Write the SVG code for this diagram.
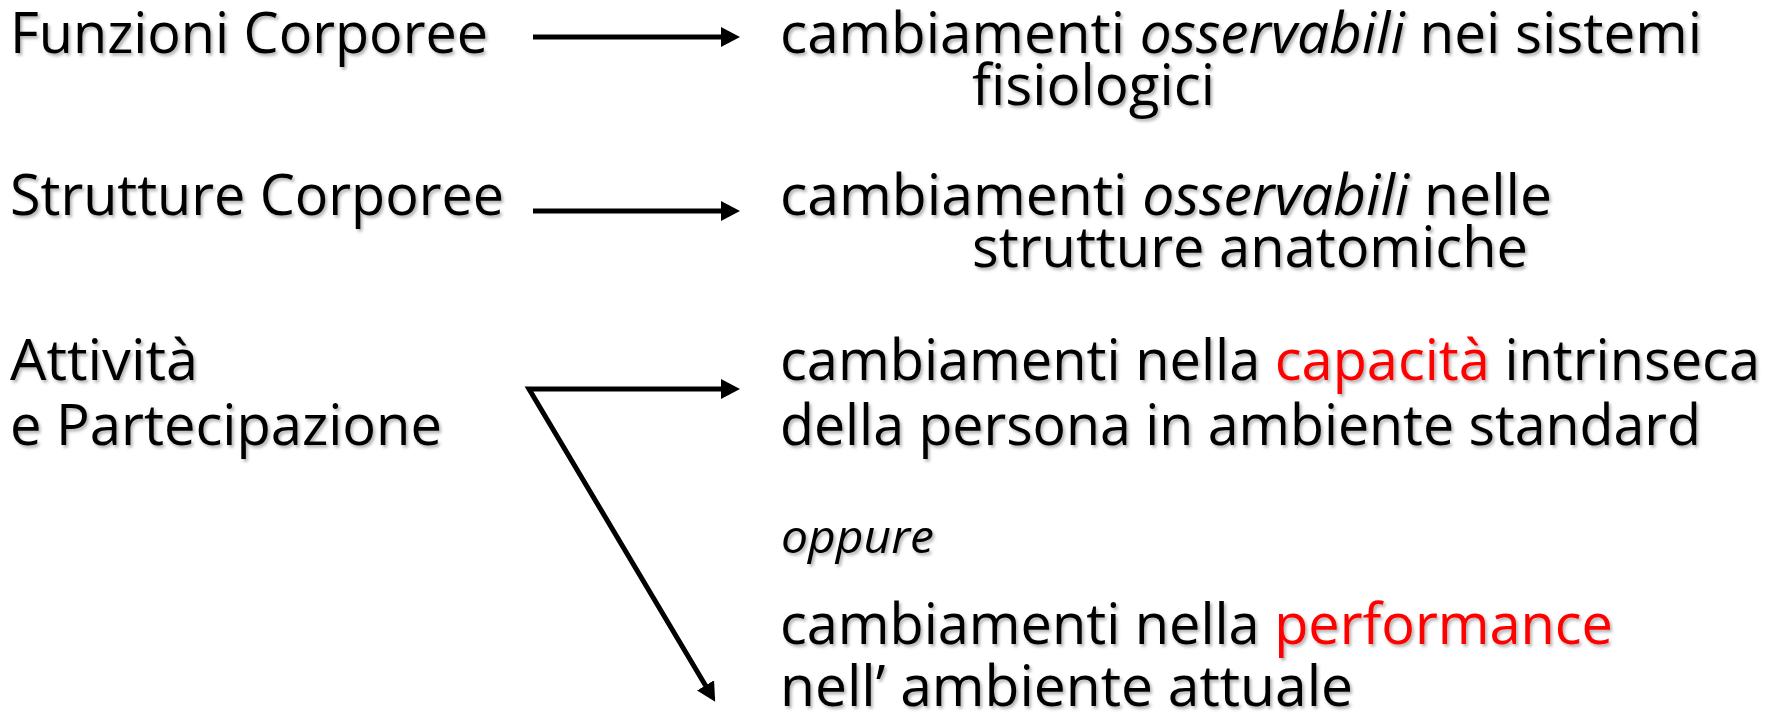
<svg xmlns="http://www.w3.org/2000/svg" width="1771" height="720" viewBox="0 0 1771 720">
<style>
  text { font-family: "Open Sans", "Noto Sans", "Liberation Sans", sans-serif; font-size: 56px; fill: #000; }
  .it { font-style: italic; }
  .red { fill: #FF0000; }
  .small { font-size: 46px; }
  .shadow { filter: url(#sh); }
  .conn { fill: none; stroke: #000; stroke-width: 5; stroke-linejoin: miter; }
</style>
<defs>
  <filter id="sh" x="-5%" y="-20%" width="110%" height="150%">
    <feDropShadow dx="2" dy="2.5" stdDeviation="1.5" flood-color="#000" flood-opacity="0.3"/>
  </filter>
  <marker id="ah" viewBox="0 0 19 20" refX="3" refY="10" markerWidth="19" markerHeight="20" markerUnits="userSpaceOnUse" orient="auto-start-reverse">
    <path d="M0,0 L19,10 L0,20 Z" fill="#000"/>
  </marker>
</defs>

<g id="funzioni" class="shadow">
  <text x="10" y="53" textLength="478" lengthAdjust="spacingAndGlyphs">Funzioni Corporee</text>
</g>
<g id="funzioni-desc" class="shadow">
  <text x="780" y="53" textLength="922" lengthAdjust="spacingAndGlyphs">cambiamenti <tspan class="it">osservabili</tspan> nei sistemi</text>
  <text x="972" y="105" textLength="243" lengthAdjust="spacingAndGlyphs">fisiologici</text>
</g>

<g id="strutture" class="shadow">
  <text x="10" y="215" textLength="494" lengthAdjust="spacingAndGlyphs">Strutture Corporee</text>
</g>
<g id="strutture-desc" class="shadow">
  <text x="780" y="215" textLength="772" lengthAdjust="spacingAndGlyphs">cambiamenti <tspan class="it">osservabili</tspan> nelle</text>
  <text x="972" y="267" textLength="556" lengthAdjust="spacingAndGlyphs">strutture anatomiche</text>
</g>

<g id="attivita" class="shadow">
  <text x="10" y="380" textLength="188" lengthAdjust="spacingAndGlyphs">Attività</text>
  <text x="10" y="445" textLength="432" lengthAdjust="spacingAndGlyphs">e Partecipazione</text>
</g>
<g id="capacita-desc" class="shadow">
  <text x="780" y="380" textLength="980" lengthAdjust="spacingAndGlyphs">cambiamenti nella <tspan class="red">capacità</tspan> intrinseca</text>
  <text x="780" y="445" textLength="921" lengthAdjust="spacingAndGlyphs">della persona in ambiente standard</text>
</g>
<g id="oppure" class="shadow">
  <text x="781" y="553" class="it small" textLength="153" lengthAdjust="spacingAndGlyphs">oppure</text>
</g>
<g id="performance-desc" class="shadow">
  <text x="780" y="644" textLength="833" lengthAdjust="spacingAndGlyphs">cambiamenti nella <tspan class="red">performance</tspan></text>
  <text x="780" y="706" textLength="573" lengthAdjust="spacingAndGlyphs">nell’ ambiente attuale</text>
</g>

<g id="connectors">
  <path class="conn" d="M533,37 L724,37" marker-end="url(#ah)"/>
  <path class="conn" d="M533,211 L724,211" marker-end="url(#ah)"/>
  <path class="conn" d="M724,389 L529,389 L707,688" marker-start="url(#ah)" marker-end="url(#ah)"/>
</g>
</svg>
